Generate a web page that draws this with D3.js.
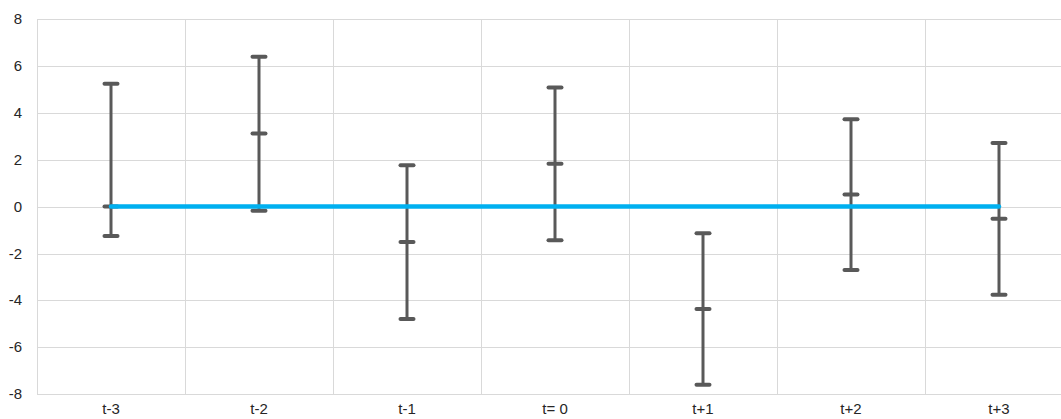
<!DOCTYPE html>
<html><head><meta charset="utf-8">
<script src="https://cdn.jsdelivr.net/npm/d3@7"></script>
<style>body{margin:0;background:#fff;}svg{display:block;} text{font-family:"Liberation Sans", Arial, sans-serif;font-size:15px;}</style>
</head><body>
<svg id="c" width="1061" height="419"></svg>
<script>
const categories = ["t-3","t-2","t-1","t= 0","t+1","t+2","t+3"];
const highs = [5.24, 6.39, 1.76, 5.08, -1.14, 3.73, 2.71];
const means = [0.0, 3.12, -1.51, 1.83, -4.37, 0.52, -0.52];
const lows  = [-1.25, -0.18, -4.79, -1.44, -7.60, -2.70, -3.76];
const baseline = [0,0,0,0,0,0,0];
const yTicks = [-8,-6,-4,-2,0,2,4,6,8];

const svg = d3.select("#c");
const x = d3.scaleBand().domain(categories).range([37, 1073]).padding(0);
const y = d3.scaleLinear().domain([-8, 8]).range([394.2, 19]);
const cx = d => x(d) + x.bandwidth()/2;

svg.append("g").selectAll("line").data(yTicks).join("line")
  .attr("x1", 37).attr("x2", 1073)
  .attr("y1", d => Math.round(y(d)) + 0.5).attr("y2", d => Math.round(y(d)) + 0.5)
  .attr("stroke", "#d9d9d9").attr("stroke-width", 1);
const xb = categories.map(c => x(c)).concat([x.range()[1]]);
svg.append("g").selectAll("line").data(xb).join("line")
  .attr("x1", d => Math.round(d) + 0.5).attr("x2", d => Math.round(d) + 0.5)
  .attr("y1", y(8)).attr("y2", y(-8))
  .attr("stroke", "#d9d9d9").attr("stroke-width", 1);

svg.append("g").selectAll("text").data(yTicks).join("text")
  .attr("x", 22).attr("y", d => y(d) + 5)
  .attr("text-anchor", "end")
  .attr("fill", "#262626").text(d => d);
svg.append("g").selectAll("text").data(categories).join("text")
  .attr("x", d => cx(d)).attr("y", 414)
  .attr("text-anchor", "middle")
  .attr("fill", "#262626").text(d => d);

const data = categories.map((c, i) => ({c, hi: highs[i], m: means[i], lo: lows[i]}));
const eb = svg.append("g").attr("stroke", "#595959");
eb.selectAll("line.v").data(data).join("line").attr("class","v")
  .attr("x1", d => cx(d.c)).attr("x2", d => cx(d.c))
  .attr("y1", d => y(d.hi)).attr("y2", d => y(d.lo))
  .attr("stroke-width", 3);
["hi","m","lo"].forEach(k => {
  eb.selectAll("line." + k).data(data).join("line").attr("class", k)
    .attr("x1", d => cx(d.c) - 6.5).attr("x2", d => cx(d.c) + 6.5)
    .attr("y1", d => y(d[k])).attr("y2", d => y(d[k]))
    .attr("stroke-width", 4).attr("stroke-linecap", "round");
});

svg.append("path").datum(categories.map((c,i)=>[cx(c), y(baseline[i])]))
  .attr("d", d3.line())
  .attr("fill", "none").attr("stroke", "#00b0f0").attr("stroke-width", 4.5)
  .attr("stroke-linecap", "round");
</script>
</body></html>
